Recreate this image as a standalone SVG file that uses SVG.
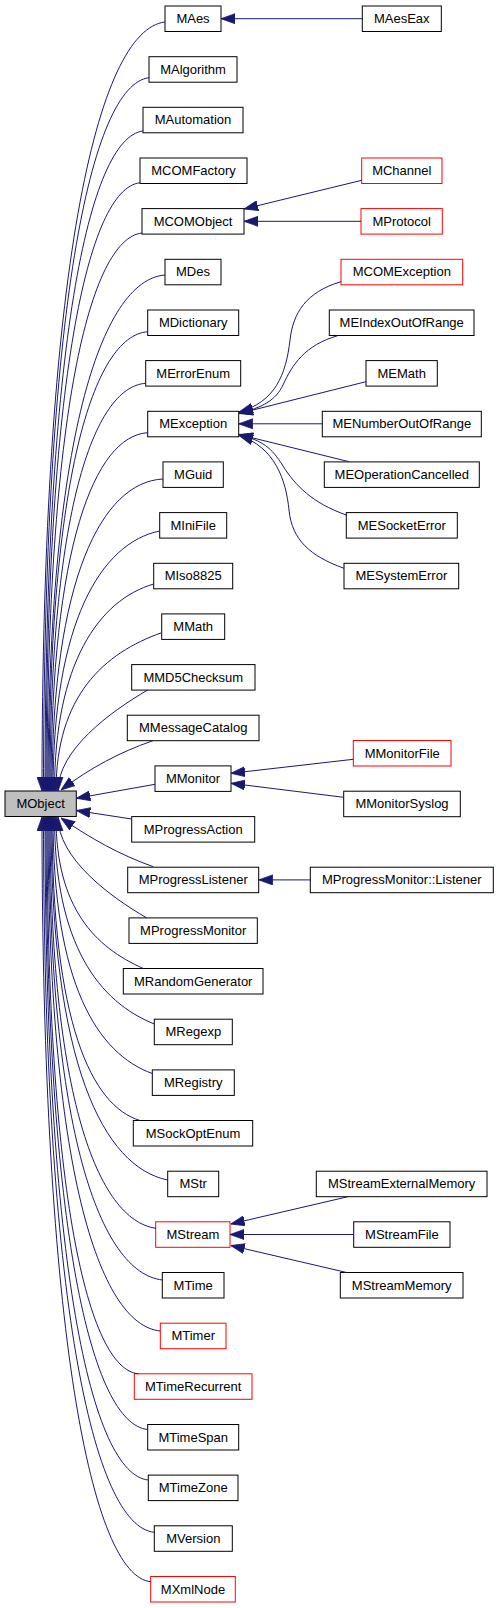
<svg xmlns="http://www.w3.org/2000/svg" width="499" height="1608" viewBox="0 0 499 1608">
<style>
.n rect{fill:#ffffff;stroke:#000000;stroke-width:1}
.r rect{fill:#ffffff;stroke:#ff0000;stroke-width:1}
.root rect{fill:#bfbfbf;stroke:#000000;stroke-width:1}
text{font-family:"Liberation Sans",Arial,sans-serif;font-size:13px;text-anchor:middle;fill:#000000}
#edges path{fill:none;stroke:#191970;stroke-width:1;marker-end:url(#arr)}
</style>
<defs>
<marker id="arr" markerUnits="userSpaceOnUse" markerWidth="14" markerHeight="11" viewBox="0 0 14 11" refX="14" refY="5.5" orient="auto">
<path d="M0,0.5 L14,5.5 L0,10.5 z" fill="#191970" stroke="#191970" stroke-width="0.8"/>
</marker>
</defs>
<rect x="0" y="0" width="499" height="1608" fill="#ffffff"/>

<g id="MObject" class="root"><rect x="5" y="791" width="71.3" height="25.5"/><text x="40.6" y="808">MObject</text></g>

<g id="MAes" class="n"><rect x="165" y="6" width="56" height="25.5"/><text x="193" y="23">MAes</text></g>
<g id="MAlgorithm" class="n"><rect x="149" y="56.7" width="88" height="25.5"/><text x="193" y="73.7">MAlgorithm</text></g>
<g id="MAutomation" class="n"><rect x="143" y="107.3" width="100" height="25.5"/><text x="193" y="124.3">MAutomation</text></g>
<g id="MCOMFactory" class="n"><rect x="140" y="158" width="107" height="25.5"/><text x="193.5" y="175">MCOMFactory</text></g>
<g id="MCOMObject" class="n"><rect x="142" y="208.6" width="102" height="25.5"/><text x="193" y="225.6">MCOMObject</text></g>
<g id="MDes" class="n"><rect x="165" y="259.3" width="56" height="25.5"/><text x="193" y="276.3">MDes</text></g>
<g id="MDictionary" class="n"><rect x="147.7" y="310" width="91" height="25.5"/><text x="193.2" y="327">MDictionary</text></g>
<g id="MErrorEnum" class="n"><rect x="145.7" y="360.6" width="95" height="25.5"/><text x="193.2" y="377.6">MErrorEnum</text></g>
<g id="MException" class="n"><rect x="147.7" y="411.3" width="91" height="25.5"/><text x="193.2" y="428.3">MException</text></g>
<g id="MGuid" class="n"><rect x="163" y="461.9" width="60.3" height="25.5"/><text x="193.2" y="478.9">MGuid</text></g>
<g id="MIniFile" class="n"><rect x="159.7" y="512.6" width="67" height="25.5"/><text x="193.2" y="529.6">MIniFile</text></g>
<g id="MIso8825" class="n"><rect x="153.7" y="563.3" width="79" height="25.5"/><text x="193.2" y="580.3">MIso8825</text></g>
<g id="MMath" class="n"><rect x="161.7" y="613.9" width="63" height="25.5"/><text x="193.2" y="630.9">MMath</text></g>
<g id="MMD5Checksum" class="n"><rect x="131.7" y="664.6" width="123.3" height="25.5"/><text x="193.3" y="681.6">MMD5Checksum</text></g>
<g id="MMessageCatalog" class="n"><rect x="127.3" y="715.2" width="131.7" height="25.5"/><text x="193.2" y="732.2">MMessageCatalog</text></g>
<g id="MMonitor" class="n"><rect x="155" y="765.9" width="76" height="25.5"/><text x="193" y="782.9">MMonitor</text></g>
<g id="MProgressAction" class="n"><rect x="131.7" y="816.6" width="123" height="25.5"/><text x="193.2" y="833.6">MProgressAction</text></g>
<g id="MProgressListener" class="n"><rect x="127.7" y="867.2" width="131" height="25.5"/><text x="193.2" y="884.2">MProgressListener</text></g>
<g id="MProgressMonitor" class="n"><rect x="129" y="917.9" width="128.3" height="25.5"/><text x="193.2" y="934.9">MProgressMonitor</text></g>
<g id="MRandomGenerator" class="n"><rect x="123.3" y="968.5" width="139.7" height="25.5"/><text x="193.2" y="985.5">MRandomGenerator</text></g>
<g id="MRegexp" class="n"><rect x="154.3" y="1019.2" width="78" height="25.5"/><text x="193.3" y="1036.2">MRegexp</text></g>
<g id="MRegistry" class="n"><rect x="152.3" y="1069.9" width="82" height="25.5"/><text x="193.3" y="1086.9">MRegistry</text></g>
<g id="MSockOptEnum" class="n"><rect x="133.3" y="1120.5" width="119.4" height="25.5"/><text x="193" y="1137.5">MSockOptEnum</text></g>
<g id="MStr" class="n"><rect x="167.7" y="1171.2" width="51" height="25.5"/><text x="193.2" y="1188.2">MStr</text></g>
<g id="MStream" class="r"><rect x="155.7" y="1221.8" width="74.3" height="25.5"/><text x="192.9" y="1238.8">MStream</text></g>
<g id="MTime" class="n"><rect x="162.3" y="1272.5" width="61.7" height="25.5"/><text x="193.2" y="1289.5">MTime</text></g>
<g id="MTimer" class="r"><rect x="160.3" y="1323.2" width="65.7" height="25.5"/><text x="193.2" y="1340.2">MTimer</text></g>
<g id="MTimeRecurrent" class="r"><rect x="134.3" y="1373.8" width="117.7" height="25.5"/><text x="193.2" y="1390.8">MTimeRecurrent</text></g>
<g id="MTimeSpan" class="n"><rect x="147.7" y="1424.5" width="91" height="25.5"/><text x="193.2" y="1441.5">MTimeSpan</text></g>
<g id="MTimeZone" class="n"><rect x="148.3" y="1475.1" width="89.7" height="25.5"/><text x="193.2" y="1492.1">MTimeZone</text></g>
<g id="MVersion" class="n"><rect x="154.3" y="1525.8" width="78" height="25.5"/><text x="193.3" y="1542.8">MVersion</text></g>
<g id="MXmlNode" class="r"><rect x="150.7" y="1576.5" width="84.6" height="25.5"/><text x="193" y="1593.5">MXmlNode</text></g>

<g id="MAesEax" class="n"><rect x="362.3" y="6" width="79" height="25.5"/><text x="401.8" y="23">MAesEax</text></g>
<g id="MChannel" class="r"><rect x="361.7" y="158" width="80.3" height="25.5"/><text x="401.8" y="175">MChannel</text></g>
<g id="MProtocol" class="r"><rect x="361" y="208.6" width="81.3" height="25.5"/><text x="401.7" y="225.6">MProtocol</text></g>
<g id="MCOMException" class="r"><rect x="341" y="259.3" width="121.7" height="25.5"/><text x="401.8" y="276.3">MCOMException</text></g>
<g id="MEIndexOutOfRange" class="n"><rect x="329.3" y="310" width="144.7" height="25.5"/><text x="401.7" y="327">MEIndexOutOfRange</text></g>
<g id="MEMath" class="n"><rect x="366" y="360.6" width="71.3" height="25.5"/><text x="401.7" y="377.6">MEMath</text></g>
<g id="MENumberOutOfRange" class="n"><rect x="322.3" y="411.3" width="159" height="25.5"/><text x="401.8" y="428.3">MENumberOutOfRange</text></g>
<g id="MEOperationCancelled" class="n"><rect x="324.3" y="461.9" width="155" height="25.5"/><text x="401.8" y="478.9">MEOperationCancelled</text></g>
<g id="MESocketError" class="n"><rect x="346.3" y="512.6" width="111" height="25.5"/><text x="401.8" y="529.6">MESocketError</text></g>
<g id="MESystemError" class="n"><rect x="344" y="563.3" width="114.7" height="25.5"/><text x="401.4" y="580.3">MESystemError</text></g>
<g id="MMonitorFile" class="r"><rect x="353.3" y="740.5" width="97.7" height="25.5"/><text x="402.2" y="757.5">MMonitorFile</text></g>
<g id="MMonitorSyslog" class="n"><rect x="343.7" y="791.2" width="116.6" height="25.5"/><text x="402" y="808.2">MMonitorSyslog</text></g>
<g id="MProgressMonitor_Listener" class="n"><rect x="310.3" y="867.2" width="183" height="25.5"/><text x="401.8" y="884.2">MProgressMonitor::Listener</text></g>
<g id="MStreamExternalMemory" class="n"><rect x="316.3" y="1171.2" width="170.7" height="25.5"/><text x="401.7" y="1188.2">MStreamExternalMemory</text></g>
<g id="MStreamFile" class="n"><rect x="353.7" y="1221.8" width="96.3" height="25.5"/><text x="401.9" y="1238.8">MStreamFile</text></g>
<g id="MStreamMemory" class="n"><rect x="340.3" y="1272.5" width="122.7" height="25.5"/><text x="401.7" y="1289.5">MStreamMemory</text></g>

<g id="edges">
<path d="M165,22 C97,30 42,268 42,791"/>
<path d="M149,77.7 C91,85 43.5,306 43.5,791"/>
<path d="M143,131 C89,138 45,342 45,791"/>
<path d="M140,182.7 C88,189 46,377 46,791"/>
<path d="M142,233 C90,239 47,412 47,791"/>
<path d="M165,275 C101,280 48,440 48,791"/>
<path d="M147.7,331.7 C93,336 49,479 49,791"/>
<path d="M145.7,383.3 C93,387 50,514 50,791"/>
<path d="M147.7,432.7 C94.5,436 51,547 51,791"/>
<path d="M163,479 C102,482 52,579 52,791"/>
<path d="M159.7,531 C101,543 53,622 53,791"/>
<path d="M153.7,584 C99,600 54.5,663 54.5,791"/>
<path d="M161.7,632.7 C104,653 56,696 56,791"/>
<path d="M147.7,690 C110,712 58,750 58,791"/>
<path d="M153,740.7 C120,752 90,768 61,790"/>
<path d="M155,784.3 L76.3,798.3"/>
<path d="M131.7,819 L76.3,810.5"/>
<path d="M153.3,866.7 C120,855 90,838 61,818"/>
<path d="M146.7,917.9 C109,896 58,858 58,817"/>
<path d="M143.3,968.5 C95,947 56,908 56,817"/>
<path d="M154.3,1024 C99.4,1002 54.5,945 54.5,817"/>
<path d="M152.3,1073.5 C97.7,1054 53,984 53,817"/>
<path d="M140,1120.5 C91.6,1106 52,1023 52,817"/>
<path d="M167.7,1180 C103.5,1167 51,1064 51,817"/>
<path d="M155.7,1228.3 C97.6,1219.6 50,1096.7 50,817"/>
<path d="M162.3,1280 C100,1272.5 49,1131.8 49,817"/>
<path d="M160.3,1331 C98.5,1324.8 48,1166.5 48,817"/>
<path d="M138.3,1373.8 C88.1,1368.8 47,1195.6 47,817"/>
<path d="M147.7,1429.5 C91.8,1423.9 46,1233.5 46,817"/>
<path d="M148.3,1480 C91.5,1474.3 45,1267.8 45,817"/>
<path d="M154.3,1532.3 C93.4,1526.2 43.5,1303.4 43.5,817"/>
<path d="M150.7,1581.7 C92.1,1575.8 42,1337 42,817"/>

<path d="M362.3,18.7 L221,18.7"/>
<path d="M361.7,180.3 L244,209"/>
<path d="M361,221.3 L244,221.3"/>
<path d="M341,281.7 C306,292 293,313 290,340 C286,375 275,402 239,412"/>
<path d="M337.7,335.7 C305,345 292,365 283,385 C276,400 262,408 239,413"/>
<path d="M366,381.7 L239,413.5"/>
<path d="M322.3,423.8 L238.7,423.8"/>
<path d="M349,461.7 L239,434.5"/>
<path d="M346.3,515 C312,503 295,485 283,466 C272,448 262,440 239,435"/>
<path d="M344,568.3 C310,556 292,540 289,510 C286,480 275,447 239,435.5"/>
<path d="M353.3,759.3 L231,773.3"/>
<path d="M343.7,797.3 L231,783.3"/>
<path d="M310.3,879.9 L258.7,879.9"/>
<path d="M348,1196.7 L230.7,1224"/>
<path d="M353.7,1234.5 L230,1234.5"/>
<path d="M346.7,1272.5 L230.7,1245.5"/>
</g>
</svg>
